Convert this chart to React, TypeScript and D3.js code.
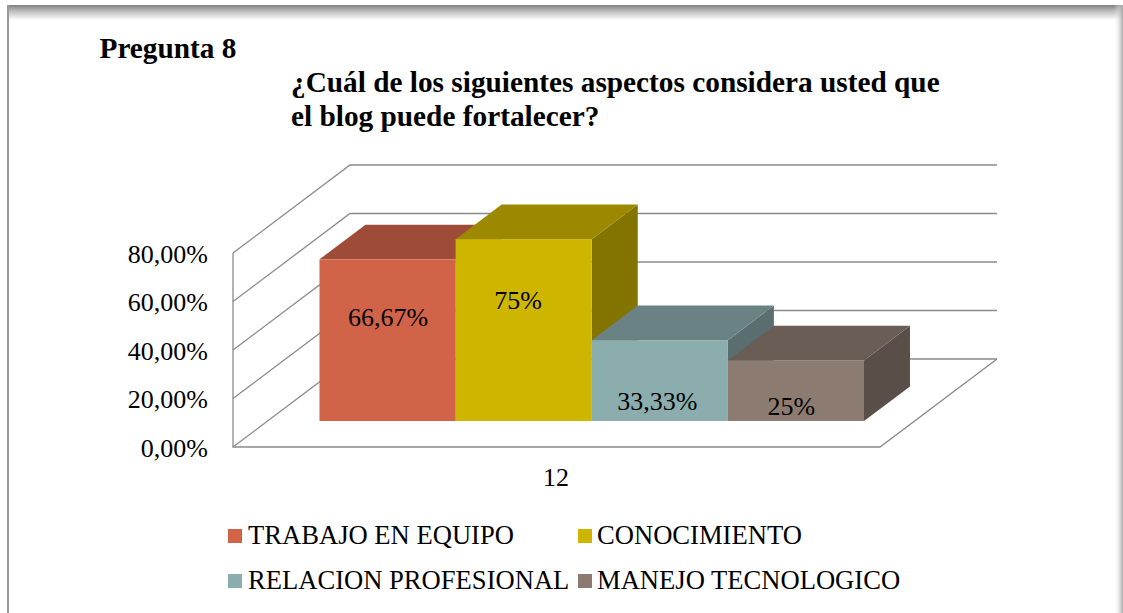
import React from "react";
import * as d3 from "d3";

const seriesNames = ["TRABAJO EN EQUIPO", "CONOCIMIENTO", "RELACION PROFESIONAL", "MANEJO TECNOLOGICO"];
const seriesValues = [66.67, 75, 33.33, 25];
const valueLabels = ["66,67%", "75%", "33,33%", "25%"];
const labelDY = [-39, -46, 4, -0.5]; // baseline offset from the front-face centre
const labelDX = [0, -6, -3, -5];
const frontColors = ["#D16349", "#CEB600", "#8CADAE", "#8C7B70"];
const topColors = ["#9E4C38", "#9C8900", "#6A8283", "#6A5D55"];
const sideColors = ["#9E4C38", "#837400", "#5A6E6F", "#5A4F48"];
const yTicks = [0, 20, 40, 60, 80];
const yTickLabels = ["0,00%", "20,00%", "40,00%", "60,00%", "80,00%"];
const categoryLabel = "12";

const W = 1123, H = 613;
const FONT = "'Liberation Serif', 'Times New Roman', serif";
const GRID = "#8a8a8a";

const y = d3.scaleLinear().domain([0, 80]).range([447, 253]);
const x0 = 233, x1 = 880;
const wallDX = 117, wallDY = -88;
const barLift = 26;
const depthDX = 46, depthDY = -34.6;
const x = d3.scaleBand<number>().domain(d3.range(seriesValues.length)).range([319.5, 864]);
const line = d3.line<[number, number]>();
const poly = (pts: [number, number][]) => line(pts)! + "Z";

export default function App() {
  return (
    <svg width={W} height={H} viewBox={`0 0 ${W} ${H}`} style={{ position: "absolute", left: 0, top: 0, display: "block", background: "#fff" }}>
      <defs>
        <linearGradient id="topShade" x1="0" y1="0" x2="0" y2="1">
          <stop offset="0" stopColor="#7f7f7f" />
          <stop offset="0.35" stopColor="#b5b5b5" />
          <stop offset="1" stopColor="#ffffff" />
        </linearGradient>
        <linearGradient id="rightShade" x1="0" y1="0" x2="1" y2="0">
          <stop offset="0" stopColor="#ffffff" stopOpacity="0" />
          <stop offset="1" stopColor="#a8a8a8" />
        </linearGradient>
      </defs>

      {/* page frame */}
      <rect x={7} y={5} width={W - 7} height={15} fill="url(#topShade)" />
      <rect x={1114} y={5} width={9} height={H - 5} fill="url(#rightShade)" />
      <rect x={7} y={5} width={2} height={H - 5} fill="#999" />

      {/* titles */}
      <g fontFamily={FONT} fontWeight="bold" fill="#000" fontSize={29.3}>
        <text x={99.5} y={58}>Pregunta 8</text>
        <text x={291} y={92}>¿Cuál de los siguientes aspectos considera usted que</text>
        <text x={291} y={126}>el blog puede fortalecer?</text>
      </g>

      {/* walls and gridlines */}
      <g fill="none" stroke={GRID} strokeWidth={1.3}>
        {yTicks.map((t) => (
          <path
            key={t}
            d={line([[x0, y(t)], [x0 + wallDX, y(t) + wallDY], [x1 + wallDX, y(t) + wallDY]])!}
          />
        ))}
        <path d={line([[x0, y(80)], [x0, y(0)], [x1, y(0)], [x1 + wallDX, y(0) + wallDY]])!} />
      </g>

      {/* bars */}
      {seriesValues.map((v, i) => {
        const l = x(i)!;
        const r = l + x.bandwidth();
        const top = y(v) - barLift;
        const bottom = y(0) - barLift;
        return (
          <g key={i}>
            <path d={poly([[r, top], [r + depthDX, top + depthDY], [r + depthDX, bottom + depthDY], [r, bottom]])} fill={sideColors[i]} />
            <path d={poly([[l, top], [l + depthDX, top + depthDY], [r + depthDX, top + depthDY], [r, top]])} fill={topColors[i]} />
            <rect x={l} y={top} width={x.bandwidth()} height={bottom - top} fill={frontColors[i]} />
          </g>
        );
      })}

      {/* data labels */}
      <g fontFamily={FONT} fontSize={26} fill="#000" textAnchor="middle">
        {seriesValues.map((v, i) => {
          const top = y(v) - barLift;
          const bottom = y(0) - barLift;
          return (
            <text key={i} x={x(i)! + x.bandwidth() / 2 + 0.5 + labelDX[i]} y={(top + bottom) / 2 + labelDY[i] + 25}>
              {valueLabels[i]}
            </text>
          );
        })}
      </g>

      {/* axis labels */}
      <g fontFamily={FONT} fontSize={26} fill="#000">
        {yTicks.map((t, i) => (
          <text key={t} x={208} y={y(t) + 9.5} textAnchor="end">{yTickLabels[i]}</text>
        ))}
        <text x={556} y={486} textAnchor="middle">{categoryLabel}</text>
      </g>

      {/* legend */}
      <g fontFamily={FONT} fontSize={26.6} fill="#000">
        {seriesNames.map((name, i) => {
          const col = i % 2, row = Math.floor(i / 2);
          const sx = col === 0 ? 228 : 578;
          const sy = row === 0 ? 529 : 574;
          return (
            <g key={name}>
              <rect x={sx} y={sy} width={14} height={14} fill={frontColors[i]} />
              <text x={sx + (col === 0 ? 20 : 19)} y={sy + 15}>{name}</text>
            </g>
          );
        })}
      </g>
    </svg>
  );
}
